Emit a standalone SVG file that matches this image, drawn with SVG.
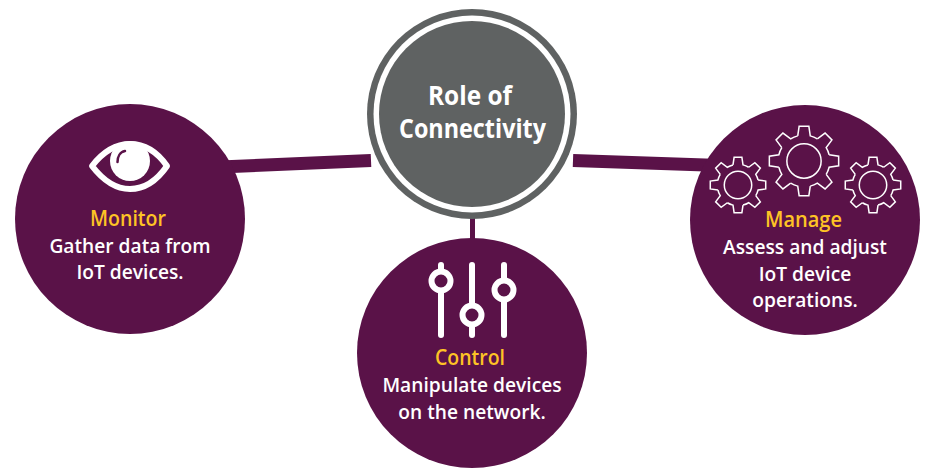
<svg xmlns="http://www.w3.org/2000/svg" xmlns:xlink="http://www.w3.org/1999/xlink" width="928" height="468" viewBox="0 0 928 468">
<style>
text{font-family:"Open Sans","Liberation Sans",sans-serif;text-anchor:middle}
.blob{fill:#5a1248}
.title{fill:#fec325;font-size:21.500px;font-weight:600}
.body{fill:#fff;font-size:19.2px;font-weight:600}
.head{fill:#fff;font-size:27px;font-weight:700}
.gear{fill:none;stroke:#fff;stroke-width:1.5}
#tooth,#gear circle{vector-effect:non-scaling-stroke}
.link{stroke:#5a1248;fill:none}
.slide{stroke:#fff;stroke-width:6;stroke-linecap:round;fill:none}
.knob{stroke:#fff;stroke-width:6;fill:#5a1248}
</style>
<defs>
<path id="tooth" d="M-17.9,-71.8L-13.9,-99L13.9,-99L17.9,-71.8A74,74 0 0 1 38.1,-63.4"/>
<g id="gear">
<use xlink:href="#tooth" href="#tooth"/>
<use xlink:href="#tooth" href="#tooth" transform="rotate(45)"/>
<use xlink:href="#tooth" href="#tooth" transform="rotate(90)"/>
<use xlink:href="#tooth" href="#tooth" transform="rotate(135)"/>
<use xlink:href="#tooth" href="#tooth" transform="rotate(180)"/>
<use xlink:href="#tooth" href="#tooth" transform="rotate(225)"/>
<use xlink:href="#tooth" href="#tooth" transform="rotate(270)"/>
<use xlink:href="#tooth" href="#tooth" transform="rotate(315)"/>
<circle r="49"/>
</g>
</defs>
<g id="connectors">
<line class="link" x1="220" y1="167" x2="371" y2="160.500" stroke-width="13"/>
<line class="link" x1="573" y1="160.500" x2="720" y2="165.500" stroke-width="13"/>
<line class="link" x1="472.500" y1="215" x2="472.500" y2="245" stroke-width="5"/>
</g>
<g id="center">
<circle cx="472" cy="114" r="105" fill="#5f6262"/>
<circle cx="472" cy="114" r="98.500" fill="#fff"/>
<circle cx="472" cy="114" r="93" fill="#5f6262"/>
<text class="head" x="470" y="105" textLength="84" lengthAdjust="spacingAndGlyphs">Role of</text>
<text class="head" x="472.500" y="138" textLength="147" lengthAdjust="spacingAndGlyphs">Connectivity</text>
</g>
<g id="monitor">
<circle class="blob" cx="130" cy="219" r="115"/>
<path d="M92,166C102,153 115,144 130,144C145,144 158,153 167,166C158,179 145,189 130,189C115,189 102,179 92,166Z" fill="none" stroke="#fff" stroke-width="6" stroke-linejoin="round"/>
<circle cx="130" cy="161" r="20" fill="#fff"/>
<path d="M117.500,162C117.500,157 120,152 125,151" fill="none" stroke="#5a1248" stroke-width="2.500" stroke-linecap="round"/>
<text class="title" x="128" y="226" textLength="76" lengthAdjust="spacingAndGlyphs">Monitor</text>
<text class="body" x="130" y="253">Gather data from</text>
<text class="body" x="130" y="279">IoT devices.</text>
</g>
<g id="control">
<circle class="blob" cx="472" cy="353" r="115"/>
<line class="slide" x1="441" y1="265" x2="441" y2="335"/>
<line class="slide" x1="472" y1="265" x2="472" y2="335"/>
<line class="slide" x1="504" y1="265" x2="504" y2="335"/>
<circle class="knob" cx="441" cy="281" r="9.500"/>
<circle class="knob" cx="472" cy="315" r="9.500"/>
<circle class="knob" cx="504" cy="290" r="9.500"/>
<text class="title" x="470" y="365" textLength="70" lengthAdjust="spacingAndGlyphs">Control</text>
<text class="body" x="472" y="392">Manipulate devices</text>
<text class="body" x="472" y="419">on the network.</text>
</g>
<g id="manage">
<circle class="blob" cx="805" cy="220" r="115"/>
<use class="gear" xlink:href="#gear" href="#gear" transform="translate(804 161) scale(.35)"/>
<use class="gear" xlink:href="#gear" href="#gear" transform="translate(738 185) scale(.28)"/>
<use class="gear" xlink:href="#gear" href="#gear" transform="translate(873 185) scale(.28)"/>
<text class="title" x="803.500" y="227" textLength="77" lengthAdjust="spacingAndGlyphs">Manage</text>
<text class="body" x="805" y="254">Assess and adjust</text>
<text class="body" x="805" y="281">IoT device</text>
<text class="body" x="805" y="307">operations.</text>
</g>
</svg>
